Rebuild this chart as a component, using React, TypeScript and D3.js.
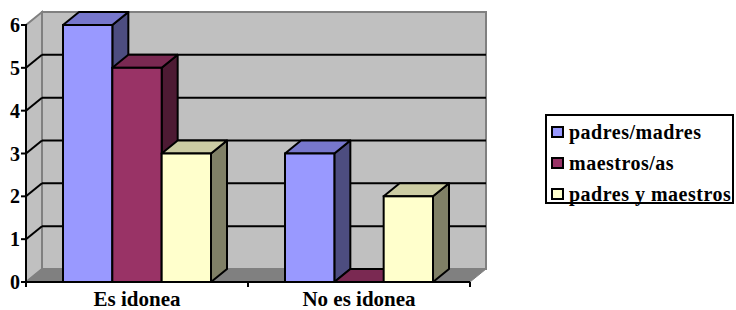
import * as d3 from "d3";

const categories = ["Es idonea", "No es idonea"];
const series = ["padres/madres", "maestros/as", "padres y maestros"];
const padresMadres = [6, 3];
const maestros = [5, 0];
const padresYMaestros = [3, 2];
const yTicks = [0, 1, 2, 3, 4, 5, 6];

const values = [padresMadres, maestros, padresYMaestros];
const faceColors = [
  { front: "#9999ff", top: "#7777cc", side: "#4d4d80" },
  { front: "#993366", top: "#7a2952", side: "#4d1a33" },
  { front: "#ffffcc", top: "#cccca3", side: "#808066" },
];

const W = 736;
const H = 310;
const DX = 16;
const DY = -13;
const FONT = "Liberation Serif";

export default function App() {
  const x0 = d3.scaleBand<string>().domain(categories).range([26, 470]);
  const x1 = d3
    .scaleBand<string>()
    .domain(series)
    .range([0, x0.bandwidth()])
    .paddingInner(0)
    .paddingOuter(0.75);
  const y = d3.scaleLinear().domain([0, 6]).range([282, 25]);

  const left = x0.range()[0];
  const right = x0.range()[1];
  const y0 = y(0);
  const yTop = y(6);

  const poly = (pts: [number, number][]) => "M" + pts.map((p) => p.join(",")).join("L") + "Z";

  const bars: JSX.Element[] = [];
  categories.forEach((cat, ci) => {
    series.forEach((s, si) => {
      const v = values[si][ci];
      const bx = (x0(cat) ?? 0) + (x1(s) ?? 0);
      const bw = x1.bandwidth();
      const by = y(v);
      const c = faceColors[si];
      bars.push(
        <g key={cat + s}>
          <path
            d={poly([[bx + bw, y0], [bx + bw, by], [bx + bw + DX, by + DY], [bx + bw + DX, y0 + DY]])}
            fill={c.side}
            stroke="#000"
            strokeWidth={2}
            strokeLinejoin="round"
          />
          <path
            d={poly([[bx, by], [bx + DX, by + DY], [bx + bw + DX, by + DY], [bx + bw, by]])}
            fill={c.top}
            stroke="#000"
            strokeWidth={2}
            strokeLinejoin="round"
          />
          {v > 0 && (
            <rect x={bx} y={by} width={bw} height={y0 - by} fill={c.front} stroke="#000" strokeWidth={2} />
          )}
        </g>
      );
    });
  });

  return (
    <svg width={W} height={H} style={{ position: "absolute", left: 0, top: 0 }}>
      {/* back wall */}
      <rect x={left + DX} y={yTop + DY} width={right - left} height={y0 - yTop} fill="#c0c0c0" stroke="#808080" strokeWidth={2} />
      {/* side wall */}
      <path
        d={poly([[left, y0], [left, yTop], [left + DX, yTop + DY], [left + DX, y0 + DY]])}
        fill="#c0c0c0"
        stroke="#808080"
        strokeWidth={2}
      />
      {/* floor */}
      <path
        d={poly([[left, y0], [right, y0], [right + DX, y0 + DY], [left + DX, y0 + DY]])}
        fill="#808080"
        stroke="#808080"
        strokeWidth={1}
      />
      {/* gridlines */}
      {yTicks.slice(1, -1).map((t) => (
        <g key={t}>
          <line x1={left + DX} x2={right + DX} y1={y(t) + DY} y2={y(t) + DY} stroke="#000" strokeWidth={2} />
          <line x1={left} x2={left + DX} y1={y(t)} y2={y(t) + DY} stroke="#000" strokeWidth={2} />
        </g>
      ))}
      {bars}
      {/* axes */}
      <line x1={left} x2={left} y1={yTop - 1} y2={y0 + 1} stroke="#000" strokeWidth={2} />
      <line x1={left} x2={right} y1={y0} y2={y0} stroke="#000" strokeWidth={2} />
      {yTicks.map((t) => (
        <g key={t}>
          <line x1={left - 5} x2={left} y1={y(t)} y2={y(t)} stroke="#000" strokeWidth={2} />
          <text x={left - 6} y={y(t) + 7} textAnchor="end" fontFamily={FONT} fontSize={20} fontWeight="bold">
            {String(t)}
          </text>
        </g>
      ))}
      {[left, left + x0.step(), right].map((xv, i) => (
        <line key={i} x1={xv} x2={xv} y1={y0} y2={y0 + 5} stroke="#000" strokeWidth={2} />
      ))}
      {categories.map((cat) => (
        <text
          key={cat}
          x={(x0(cat) ?? 0) + x0.bandwidth() / 2}
          y={306}
          textAnchor="middle"
          fontFamily={FONT}
          fontSize={21}
          fontWeight="bold"
        >
          {cat}
        </text>
      ))}
      {/* legend */}
      <rect x={546} y={115} width={187} height={88} fill="#fff" stroke="#000" strokeWidth={2} />
      {series.map((s, i) => (
        <g key={s} transform={`translate(552,${132 + i * 31})`}>
          <rect x={0} y={-5} width={11} height={10} fill={faceColors[i].front} stroke="#000" strokeWidth={2} />
          <text x={17} y={7} fontFamily={FONT} fontSize={20} fontWeight="bold" letterSpacing={0.5}>
            {s}
          </text>
        </g>
      ))}
    </svg>
  );
}
